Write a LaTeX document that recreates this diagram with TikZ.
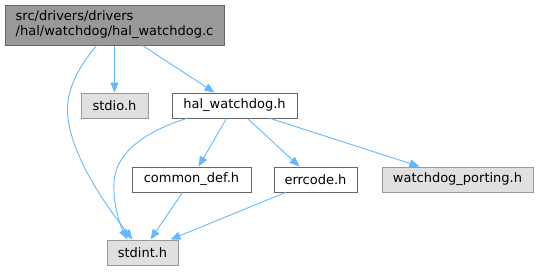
\documentclass[tikz,border=0pt]{standalone}
\usepackage{fontspec}
\setmainfont{DejaVu Sans}
\usetikzlibrary{arrows.meta,calc}
\definecolor{edgec}{HTML}{63B8FF}
\definecolor{rootfill}{HTML}{999999}
\definecolor{darkb}{HTML}{666666}
\definecolor{grayfill}{HTML}{E0E0E0}
\definecolor{grayb}{HTML}{999999}
\begin{document}
\begin{tikzpicture}[x=1pt,y=-1pt,
  every node/.style={font=\fontsize{13}{15}\selectfont, inner sep=0pt, line width=1pt},
  filebox/.style={draw=darkb, fill=white, minimum height=25pt},
  sysbox/.style={draw=grayb, fill=grayfill, minimum height=25pt},
  rootbox/.style={draw=darkb, fill=rootfill, minimum height=40pt, minimum width=219pt, align=left},
  dep/.style={draw=edgec, line width=0.9pt, -{Triangle[length=10pt,width=8pt]}}
]
\useasboundingbox (0,0) rectangle (538,271);
\node[rootbox] (root) at (114.5,25) {src/drivers/drivers\\/hal/watchdog/hal\_watchdog.c};
\node[sysbox, minimum width=67pt] (stdio) at (114.5,105.5) {stdio.h};
\node[filebox, minimum width=125pt] (hal) at (234.5,105.5) {hal\_watchdog.h};
\node[filebox, minimum width=119pt] (common) at (191.5,179.5) {common\_def.h};
\node[filebox, minimum width=83pt] (err) at (315.5,179.5) {errcode.h};
\node[sysbox, minimum width=151pt] (port) at (457.5,179.5) {watchdog\_porting.h};
\node[sysbox, minimum width=71pt] (stdint) at (142.5,252.5) {stdint.h};

\path[dep] (root.south -| stdio.north) -- (stdio.north);
\path[dep] ($(root.south west)+(138,0)$) -- ($(hal.north west)+(43,0)$);
\path[dep] ($(root.south west)+(92,0)$) .. controls (83,62) and (64,88) .. (68,118) .. controls (73,160) and (108,208) .. ($(stdint.north west)+(26,0)$);
\path[dep] ($(hal.south west)+(15,0)$) .. controls (150,130) and (116,150) .. (114,182) .. controls (113,205) and (120,225) .. ($(stdint.north west)+(21,0)$);
\path[dep] ($(hal.south west)+(55,0)$) -- ($(common.north west)+(67,0)$);
\path[dep] ($(hal.south west)+(76,0)$) -- ($(err.north west)+(26,0)$);
\path[dep] ($(hal.south west)+(99,0)$) -- ($(port.north west)+(38,0)$);
\path[dep] ($(common.south west)+(51,0)$) -- ($(stdint.north west)+(44,0)$);
\path[dep] ($(err.south west)+(12,0)$) -- ($(stdint.north west)+(64,0)$);
\end{tikzpicture}
\end{document}
